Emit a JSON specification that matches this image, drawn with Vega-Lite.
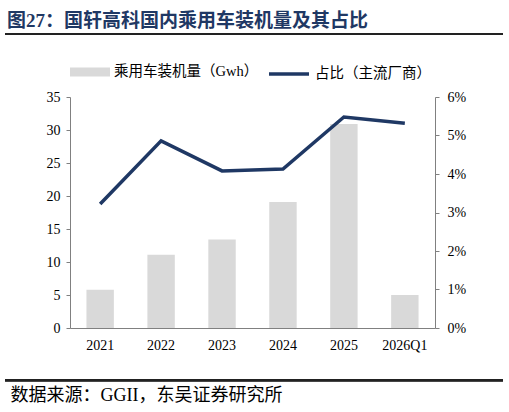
{
  "$schema": "https://vega.github.io/schema/vega-lite/v6.json",
  "width": 365,
  "height": 231,
  "autosize": {"type": "none"},
  "padding": {"left": 70, "top": 97, "right": 74, "bottom": 84},
  "background": "white",
  "title": {
    "text": "图27：国轩高科国内乘用车装机量及其占比",
    "anchor": "start",
    "font": "Liberation Serif, Noto Sans CJK SC",
    "fontSize": 19,
    "fontWeight": "bold",
    "color": "#1f3864",
    "dx": 3,
    "offset": 2
  },
  "config": {
    "view": {"stroke": null},
    "font": "Liberation Serif, Noto Sans CJK SC",
    "axis": {
      "grid": false,
      "domainColor": "#808080",
      "tickColor": "#808080",
      "labelFont": "Liberation Serif",
      "labelFontSize": 14,
      "labelColor": "#000000"
    },
    "legend": {
      "labelFont": "Liberation Serif, Noto Sans CJK SC",
      "labelFontSize": 14.5,
      "labelColor": "#000000"
    }
  },
  "data": {
    "values": [
      {"year": "2021", "volume": 5.8, "share": 0.0322},
      {"year": "2022", "volume": 11.1, "share": 0.0486},
      {"year": "2023", "volume": 13.4, "share": 0.0408},
      {"year": "2024", "volume": 19.1, "share": 0.0413},
      {"year": "2025", "volume": 30.9, "share": 0.0548},
      {"year": "2026Q1", "volume": 5.0, "share": 0.0532}
    ]
  },
  "layer": [
    {
      "encoding": {
        "x": {
          "field": "year",
          "type": "nominal",
          "sort": null,
          "scale": {"paddingInner": 0.55, "paddingOuter": 0.27},
          "axis": {
            "labelAngle": 0,
            "ticks": false,
            "labelPadding": 10,
            "title": "数据来源：GGII，东吴证券研究所",
            "titleFont": "Liberation Serif, Noto Sans CJK SC",
            "titleFontSize": 18,
            "titleFontWeight": "normal",
            "titleColor": "#000000",
            "titleAnchor": "start",
            "titleAlign": "left",
            "titleX": -60,
            "titleY": 58
          }
        }
      },
      "layer": [
        {
          "mark": {"type": "bar", "color": "#d9d9d9"},
          "encoding": {
            "y": {
              "field": "volume",
              "type": "quantitative",
              "scale": {"domain": [0, 35]},
              "axis": {"title": null, "values": [0, 5, 10, 15, 20, 25, 30, 35], "tickSize": 4, "labelPadding": 6}
            },
            "fill": {
              "datum": "乘用车装机量（Gwh）",
              "scale": {"range": ["#d9d9d9"]},
              "legend": {
                "title": null,
                "orient": "top",
                "symbolType": "M-1,-0.22H1V0.22H-1Z",
                "symbolSize": 1600,
                "symbolStrokeWidth": 0,
                "offset": 16
              }
            }
          }
        },
        {
          "mark": {"type": "line", "strokeWidth": 3.5, "color": "#1f3864"},
          "encoding": {
            "y": {
              "field": "share",
              "type": "quantitative",
              "scale": {"domain": [0, 0.06]},
              "axis": {"title": null, "orient": "right", "format": ".0%", "values": [0, 0.01, 0.02, 0.03, 0.04, 0.05, 0.06], "tickSize": 4, "labelPadding": 8}
            },
            "stroke": {
              "datum": "占比（主流厂商）",
              "scale": {"range": ["#1f3864"]},
              "legend": {
                "title": null,
                "orient": "top",
                "symbolType": "stroke",
                "symbolSize": 1600,
                "symbolStrokeWidth": 3.5,
                "offset": 16
              }
            }
          }
        }
      ],
      "resolve": {"scale": {"y": "independent", "fill": "independent", "stroke": "independent"}}
    },
    {
      "encoding": {
        "x": {"datum": 0, "type": "quantitative", "scale": {"domain": [0.1305, 0.8635]}, "axis": null},
        "x2": {"datum": 1}
      },
      "layer": [
        {
          "mark": {"type": "rule", "color": "#222222", "strokeWidth": 2},
          "encoding": {
            "y": {"datum": 44.55, "type": "quantitative", "scale": {"domain": [0, 35]}, "axis": null}
          }
        },
        {
          "mark": {"type": "rule", "color": "#222222", "strokeWidth": 2},
          "encoding": {
            "y": {"datum": -7.9, "type": "quantitative"}
          }
        }
      ]
    }
  ],
  "resolve": {"scale": {"x": "independent", "y": "independent"}}
}
